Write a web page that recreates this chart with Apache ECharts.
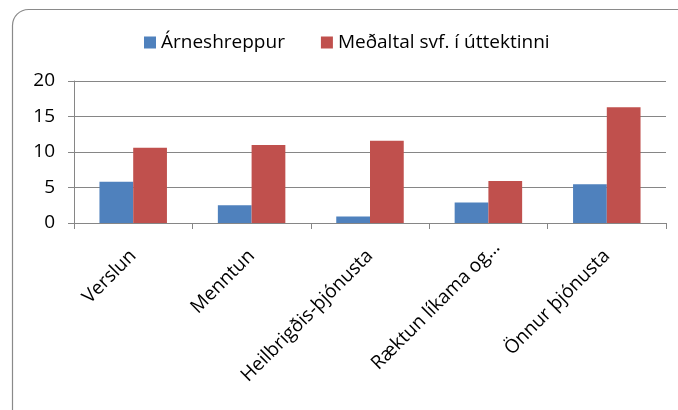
<!DOCTYPE html>
<html><head><meta charset="utf-8">
<script src="https://cdn.jsdelivr.net/npm/echarts@6/dist/echarts.min.js"></script>
<style>html,body{margin:0;padding:0;background:#fff}#c{width:678px;height:410px}</style>
</head><body><div id="c"></div>
<script>
const categories = ['Verslun', 'Menntun', 'Heilbrigðis-þjónusta', 'Ræktun líkama og…', 'Önnur þjónusta'];
const seriesNames = ['Árneshreppur', 'Meðaltal svf. í úttektinni'];
const arneshreppur = [5.8, 2.5, 0.9, 2.9, 5.45];
const medaltal = [10.6, 11.0, 11.6, 5.9, 16.3];
const yTicks = [0, 5, 10, 15, 20];

const FONT = 'Open Sans';
const chart = echarts.init(document.getElementById('c'), null, {renderer: 'canvas'});
chart.setOption({
  animation: false,
  textStyle: {fontFamily: FONT},
  graphic: [{
    type: 'rect', silent: true,
    shape: {x: 12.5, y: 9.5, width: 690, height: 420, r: 16},
    style: {fill: 'none', stroke: '#8a8a8a', lineWidth: 1.2}
  }],
  legend: {
    top: 28, left: 139, itemWidth: 12, itemHeight: 12, itemGap: 36,
    icon: 'rect',
    textStyle: {fontFamily: FONT, fontSize: 19, color: '#000'},
    data: seriesNames
  },
  grid: {left: 74, right: 12, top: 81, bottom: 187, containLabel: false},
  xAxis: {
    type: 'category', data: categories,
    axisLine: {lineStyle: {color: '#868686', width: 1}},
    axisTick: {show: true, length: 6, alignWithLabel: false, lineStyle: {color: '#868686'}},
    axisLabel: {
      rotate: 45, interval: 0, fontSize: 19, color: '#000', margin: 30, fontFamily: FONT,
      formatter: function (v) { return v.indexOf('…') >= 0 ? '{s|' + v + '}' : v; },
      rich: {s: {fontSize: 19, fontFamily: FONT, color: '#000', padding: [0, -12, 0, 0]}}
    }
  },
  yAxis: {
    type: 'value', min: yTicks[0], max: yTicks[yTicks.length - 1], interval: 5,
    axisLine: {show: true, lineStyle: {color: '#868686'}},
    axisTick: {show: true, length: 6, inside: false, lineStyle: {color: '#868686'}},
    splitLine: {lineStyle: {color: '#868686', width: 1.2}},
    axisLabel: {fontSize: 19, color: '#000', margin: 19, fontFamily: FONT}
  },
  series: [
    {name: seriesNames[0], type: 'bar', data: arneshreppur, barGap: '0%', barCategoryGap: '43%',
     itemStyle: {color: '#4f81bd'}},
    {name: seriesNames[1], type: 'bar', data: medaltal, barGap: '0%', barCategoryGap: '43%',
     itemStyle: {color: '#c0504d'}}
  ]
});
</script></body></html>
